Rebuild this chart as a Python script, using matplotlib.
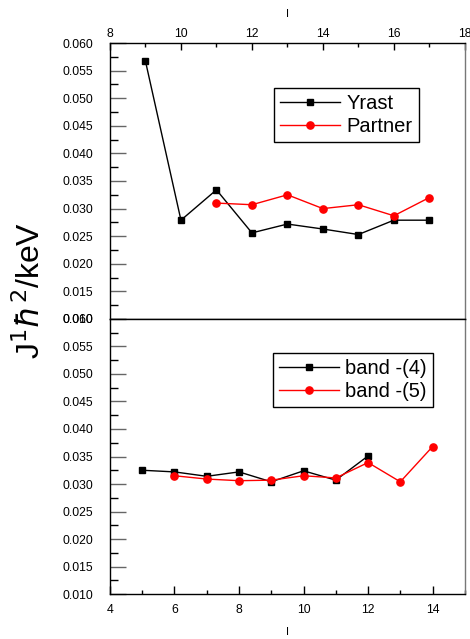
import matplotlib.pyplot as plt
from matplotlib.ticker import MultipleLocator

plt.rcParams['font.family'] = ['Liberation Sans', 'DejaVu Sans']

# top panel data
yrast_I = [9, 10, 11, 12, 13, 14, 15, 16, 17]
yrast_J = [0.0567, 0.0279, 0.0334, 0.0256, 0.0272, 0.0263, 0.0253, 0.0279, 0.0279]
partner_I = [11, 12, 13, 14, 15, 16, 17]
partner_J = [0.0310, 0.0307, 0.0325, 0.0300, 0.0307, 0.0287, 0.0320]

# bottom panel data
band4_I = [5, 6, 7, 8, 9, 10, 11, 12]
band4_J = [0.0325, 0.0322, 0.0314, 0.0322, 0.0304, 0.0324, 0.0307, 0.0351]
band5_I = [6, 7, 8, 9, 10, 11, 12, 13, 14]
band5_J = [0.0315, 0.0309, 0.0306, 0.0307, 0.0315, 0.0311, 0.0339, 0.0304, 0.0368]

fig = plt.figure(figsize=(4.7, 6.39), dpi=100)
ax1 = fig.add_axes([0.234, 0.5008, 0.755, 0.4319])
ax2 = fig.add_axes([0.234, 0.0704, 0.755, 0.4304])

ax1.plot(yrast_I, yrast_J, 'k-', marker='s', ms=4.6, lw=1, label='Yrast')
ax1.plot(partner_I, partner_J, 'r-', marker='o', ms=5.2, lw=1, label='Partner')
ax2.plot(band4_I, band4_J, 'k-', marker='s', ms=4.6, lw=1, label='band -(4)')
ax2.plot(band5_I, band5_J, 'r-', marker='o', ms=5.2, lw=1, label='band -(5)')

ax1.set_xlim(8, 18)
ax2.set_xlim(4, 15)
for ax in (ax1, ax2):
    ax.set_ylim(0.010, 0.060)
    ax.yaxis.set_major_locator(MultipleLocator(0.005))
    ax.yaxis.set_minor_locator(MultipleLocator(0.0025))
    ax.xaxis.set_major_locator(MultipleLocator(2))
    ax.xaxis.set_minor_locator(MultipleLocator(1))
    ax.yaxis.set_major_formatter(plt.FormatStrFormatter('%.3f'))
    ax.tick_params(axis='y', which='major', direction='in', length=11.5, width=1,
                   color='#666666', labelsize=8.8, pad=12, right=False)
    ax.tick_params(axis='y', which='minor', direction='in', length=5.8, width=1, right=False)
    ax.spines['right'].set_color('#777777')
    for s in ax.spines.values():
        s.set_linewidth(1)

ax1.xaxis.tick_top()
ax1.xaxis.set_label_position('top')
ax1.tick_params(axis='x', which='major', direction='in', length=5, width=1,
                labelsize=8.8, pad=2, bottom=False, top=True)
ax1.tick_params(axis='x', which='minor', direction='in', length=3, width=1,
                bottom=False, top=True)
ax1.set_xlabel('I', fontsize=8, labelpad=8)

ax2.tick_params(axis='x', which='major', direction='in', length=6, width=1,
                labelsize=8.8, pad=7, top=False)
ax2.tick_params(axis='x', which='minor', direction='in', length=3, width=1, top=False)
ax2.set_xlabel('I', fontsize=8, labelpad=8)

fig.text(0.066, 0.546, r'J$^{1}\hbar^{2}$/keV', rotation=90, fontsize=23,
         ha='center', va='center')

leg_kw = dict(loc='upper left', fontsize=14.5, frameon=True, fancybox=False,
              edgecolor='black', framealpha=1, handlelength=3.0,
              borderpad=0.3, labelspacing=0.2, handletextpad=0.3,
              borderaxespad=0)
l1 = ax1.legend(bbox_to_anchor=(0.462, 0.837), **leg_kw)
l2 = ax2.legend(bbox_to_anchor=(0.459, 0.876), **leg_kw)
for l in (l1, l2):
    l.get_frame().set_linewidth(1)

fig.savefig('out.png', dpi=100)
